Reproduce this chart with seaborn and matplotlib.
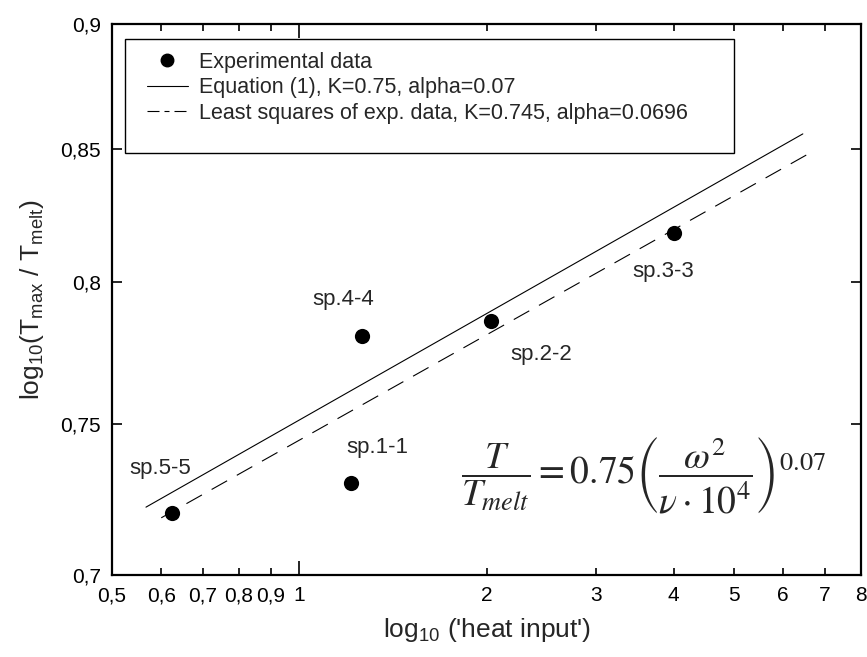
import matplotlib
matplotlib.use("Agg")
import matplotlib.pyplot as plt
import numpy as np
import pandas as pd
import seaborn as sns
from matplotlib.ticker import FixedLocator, FixedFormatter, NullLocator
from matplotlib.patches import Rectangle
from matplotlib.lines import Line2D

# ---------------- data ----------------
specimens = ['sp.5-5', 'sp.1-1', 'sp.4-4', 'sp.2-2', 'sp.3-3']
heat_input = [0.625, 1.213, 1.262, 2.03, 4.0]
t_ratio = [0.720, 0.730, 0.7805, 0.786, 0.818]

eq_x = [0.567, 6.45]          # Equation (1) line end points
eq_y = [0.722, 0.856]
ls_x = [0.60, 6.67]           # least squares line end points
ls_y = [0.7185, 0.849]

x_major_ticks = [1]
x_major_labels = ['1']
x_minor_ticks = [0.5, 0.6, 0.7, 0.8, 0.9, 2, 3, 4, 5, 6, 7, 8]
x_minor_labels = ['0,5', '0,6', '0,7', '0,8', '0,9', '2', '3', '4', '5', '6', '7', '8']
y_ticks = [0.7, 0.75, 0.8, 0.85, 0.9]
y_tick_labels = ['0,7', '0,75', '0,8', '0,85', '0,9']

legend_labels = ['Experimental data',
                 'Equation (1), K=0.75, alpha=0.07',
                 'Least squares of exp. data, K=0.745, alpha=0.0696']

# ---------------- style ----------------
sns.set_style('ticks')
plt.rcParams['font.family'] = ['Liberation Sans', 'DejaVu Sans']
plt.rcParams['mathtext.fontset'] = 'custom'
plt.rcParams['mathtext.rm'] = 'Liberation Sans'
plt.rcParams['mathtext.it'] = 'Liberation Sans:italic'

fig = plt.figure(figsize=(8.67, 6.57), dpi=100)
ax = fig.add_axes([112 / 867, 82 / 657, 749 / 867, 551 / 657])
ax.set_xscale('log')
ax.set_yscale('log')

df_pts = pd.DataFrame({'x': heat_input, 'y': t_ratio, 'name': specimens})
sns.lineplot(x=eq_x, y=eq_y, color='black', lw=0.8, ax=ax)
sns.lineplot(x=ls_x, y=ls_y, color='black', lw=0.8, linestyle=(0, (16, 10)), ax=ax)
sns.scatterplot(data=df_pts, x='x', y='y', s=120, color='black', edgecolor='black',
                linewidth=0, ax=ax, zorder=3, legend=False)

offsets = [(-8.6, 32.4), (18.7, 25.9), (-13.7, 26.6), (36.7, -24.5), (-7.9, -27.4)]
for name, xv, yv, off in zip(specimens, heat_input, t_ratio, offsets):
    ax.annotate(name, (xv, yv), xytext=off, textcoords='offset points',
                ha='center', va='center', fontsize=16)

ax.set_xlim(0.5, 8)
ax.set_ylim(0.7, 0.9)
ax.xaxis.set_major_locator(FixedLocator(x_major_ticks))
ax.xaxis.set_major_formatter(FixedFormatter(x_major_labels))
ax.xaxis.set_minor_locator(FixedLocator(x_minor_ticks))
ax.xaxis.set_minor_formatter(FixedFormatter(x_minor_labels))
ax.yaxis.set_major_locator(FixedLocator(y_ticks))
ax.yaxis.set_major_formatter(FixedFormatter(y_tick_labels))
ax.yaxis.set_minor_locator(NullLocator())
ax.tick_params(which='both', direction='in', top=True, right=True,
               labeltop=False, labelright=False, width=1.2,
               labelsize=15, pad=8, colors='black')
ax.tick_params(axis='x', which='major', length=10)
ax.tick_params(axis='x', which='minor', length=5)
ax.tick_params(axis='y', which='major', length=7)
for sp in ax.spines.values():
    sp.set_linewidth(1.6)
    sp.set_color('black')

ax.set_xlabel(r"log$_\mathregular{10}$ ('heat input')", fontsize=19, labelpad=8)
ax.set_ylabel(r"log$_\mathregular{10}$(T$_\mathregular{max}$ / T$_\mathregular{melt}$)",
              fontsize=19, labelpad=10)

# legend
handles = [Line2D([], [], marker='o', color='black', linestyle='none', markersize=9),
           Line2D([], [], color='black', lw=0.8),
           Line2D([], [], color='black', lw=0.8, linestyle=(0, (10.8, 4.5, 4.5, 4.5)))]
ax.legend(handles, legend_labels, loc='upper left', bbox_to_anchor=(35 / 749, 523 / 551),
          frameon=False, fontsize=15.5, handlelength=1.9, handletextpad=0.5,
          labelspacing=0.2, borderpad=0, borderaxespad=0)
ax.add_patch(Rectangle((13 / 749, 422 / 551), 609 / 749, 114 / 551, transform=ax.transAxes,
                       fill=False, lw=1.0, edgecolor='black', zorder=4))

# equation
ax.text(0.709, 0.183,
        r'$\dfrac{T}{T_{melt}} = 0.75\left(\dfrac{\omega^{2}}{\nu\cdot 10^{4}}\right)^{0.07}$',
        transform=ax.transAxes, ha='center', va='center', fontsize=27,
        math_fontfamily='stix')

fig.savefig('out.png', dpi=100)
